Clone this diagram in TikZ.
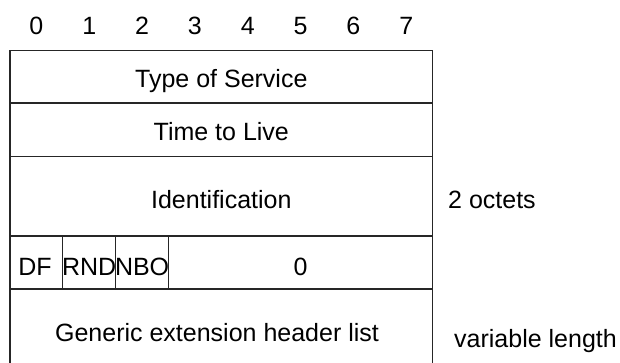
\documentclass[tikz,border=0pt]{standalone}
\usepackage{fontspec}
\setmainfont{Liberation Sans}
\begin{document}
\begin{tikzpicture}[x=1pt,y=-1pt,
  grid/.style={line width=1.2pt,draw=black!85},
  lbl/.style={anchor=base,inner sep=0pt,font=\fontsize{25}{28}\selectfont},
  side/.style={anchor=base west,inner sep=0pt,font=\fontsize{25}{28}\selectfont}]
\useasboundingbox (0,0) rectangle (620,363);
% outline (open at bottom)
\draw[grid] (10,363) -- (10,50.7) -- (432.7,50.7) -- (432.7,363);
\foreach \yy in {103,156.5,236,289} \draw[grid] (10,\yy) -- (432.7,\yy);
\foreach \xx in {62.8,115.7,168.5} \draw[grid] (\xx,236) -- (\xx,289);
% bit numbers
\foreach \i in {0,...,7} \node[lbl] (b\i) at ({36.4+52.84*\i},35) {\i};
% fields
\node[lbl] (tos) at (221.3,88) {Type of Service};
\node[lbl] (ttl) at (221.3,141) {Time to Live};
\node[lbl] (id) at (221.3,208) {Identification};
\node[lbl] (df) at (35,275) {DF};
\node[lbl] (rnd) at (89.2,275) {RND};
\node[lbl] (nbo) at (142.1,275) {NBO};
\node[lbl] (zero) at (300.6,275) {0};
\node[lbl] (gen) at (217,341) {Generic extension header list};
\node[side] (oct) at (448,208) {2 octets};
\node[side] (var) at (454,347) {variable length};
\end{tikzpicture}
\end{document}
